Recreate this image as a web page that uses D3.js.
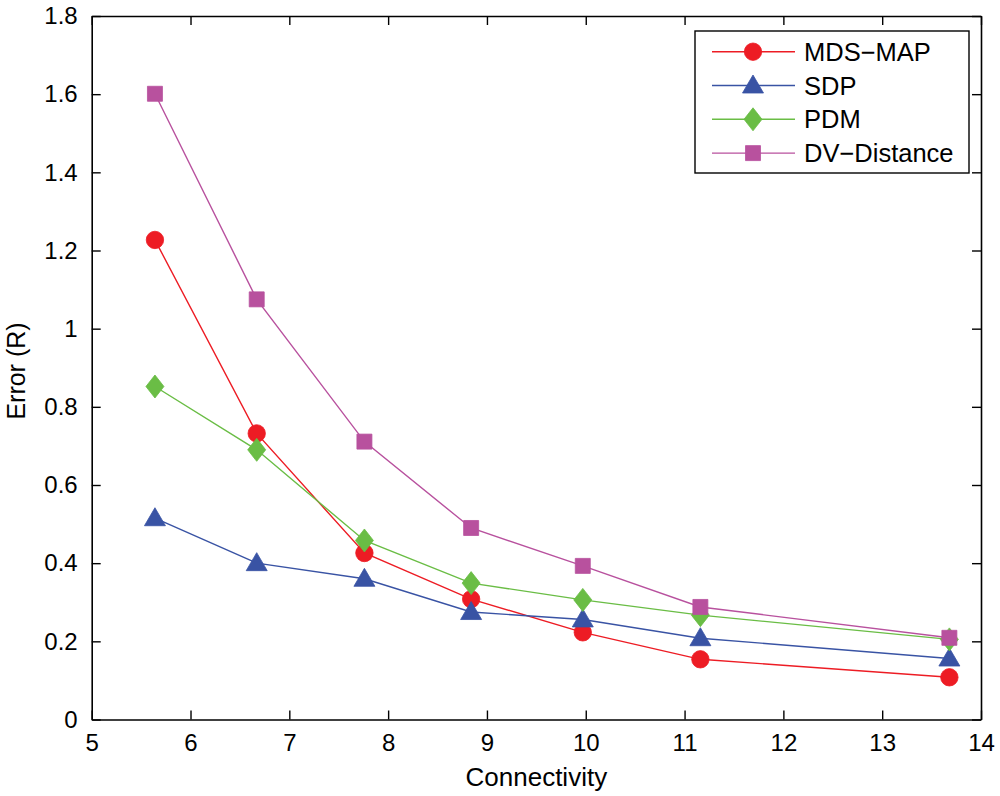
<!DOCTYPE html>
<html>
<head>
<meta charset="utf-8">
<script src="https://cdn.jsdelivr.net/npm/d3@7"></script>
<style>
  body { margin: 0; background: #fff; }
  svg text { font-family: "Liberation Sans", Arial, sans-serif; fill: #000; }
</style>
</head>
<body>
<svg id="chart" width="1000" height="796"></svg>
<script>
// connectivity values (x)
var connectivity = [5.64, 6.67, 7.76, 8.84, 9.97, 11.16, 13.68];

// error values per method
var mdsMap     = [1.227, 0.732, 0.426, 0.308, 0.223, 0.154, 0.108];
var sdp        = [0.515, 0.400, 0.360, 0.275, 0.256, 0.208, 0.156];
var pdm        = [0.852, 0.690, 0.458, 0.349, 0.306, 0.267, 0.205];
var dvDistance = [1.601, 1.075, 0.711, 0.490, 0.393, 0.288, 0.209];

var seriesNames = ["MDS\u2212MAP", "SDP", "PDM", "DV\u2212Distance"];
var xTicks = [5, 6, 7, 8, 9, 10, 11, 12, 13, 14];
var yTicks = [0, 0.2, 0.4, 0.6, 0.8, 1, 1.2, 1.4, 1.6, 1.8];

var svg = d3.select("#chart");
var margin = {top: 16, right: 19, bottom: 76.5, left: 91.7},
	width = +svg.attr("width") - margin.left - margin.right,
	height = +svg.attr("height") - margin.top - margin.bottom,
	g = svg.append("g").attr("transform", translate(margin.left, margin.top));

function translate(x, y)
{
	return "translate(" + x + "," + y + ")";
}

var x = d3.scaleLinear().domain([5, 14]).range([0, width]);
var y = d3.scaleLinear().domain([0, 1.8]).range([height, 0]);

var colors = ["#ed1c24", "#3953a4", "#6abd45", "#b8519e"];

// marker shapes, sized to the picture
function markerPath(i)
{
	if (i === 0) return d3.symbol().type(d3.symbolCircle).size(Math.PI * 8.7 * 8.7)();
	if (i === 1) return "M0,-10.5L10.5,7.5L-10.5,7.5Z";
	if (i === 2) return "M0,-11.5L9,0L0,11.5L-9,0Z";
	return "M-7.5,-7.5L7.5,-7.5L7.5,7.5L-7.5,7.5Z";
}

var allSeries = [mdsMap, sdp, pdm, dvDistance].map(function(vals, i){
	return {
		name: seriesNames[i],
		color: colors[i],
		index: i,
		points: vals.map(function(v, j){ return {x: connectivity[j], y: v}; })
	};
});

// axes box with inward ticks on every side
var tickLen = 9;
var axisStyle = function(sel){
	sel.selectAll(".domain").attr("stroke", "#000").attr("stroke-width", 1.6);
	sel.selectAll(".tick line").attr("stroke", "#000").attr("stroke-width", 1.4);
	sel.selectAll("text").attr("font-size", 24);
};

g.append("g")
	.attr("transform", translate(0, height))
	.call(d3.axisBottom(x).tickValues(xTicks).tickSizeInner(-tickLen).tickSizeOuter(0).tickPadding(14))
	.call(axisStyle);

g.append("g")
	.call(d3.axisTop(x).tickValues(xTicks).tickSizeInner(-tickLen).tickSizeOuter(0).tickFormat(""))
	.call(axisStyle);

g.append("g")
	.call(d3.axisLeft(y).tickValues(yTicks).tickSizeInner(-tickLen).tickSizeOuter(0).tickPadding(14)
		.tickFormat(function(d){ return d3.format("")(+d.toFixed(1)); }))
	.call(axisStyle);

g.append("g")
	.attr("transform", translate(width, 0))
	.call(d3.axisRight(y).tickValues(yTicks).tickSizeInner(-tickLen).tickSizeOuter(0).tickFormat(""))
	.call(axisStyle);

// series: line then markers, one series after the other
var line = d3.line()
	.x(function(d){ return x(d.x); })
	.y(function(d){ return y(d.y); });

var seriesG = g.selectAll(".series")
	.data(allSeries)
	.enter().append("g")
	.attr("class", "series");

seriesG.each(function(s){
	var sg = d3.select(this);
	sg.append("path")
		.attr("d", line(s.points))
		.attr("fill", "none")
		.attr("stroke", s.color)
		.attr("stroke-width", 1.4);
	sg.selectAll("path.marker")
		.data(s.points)
		.enter().append("path")
		.attr("class", "marker")
		.attr("transform", function(d){ return translate(x(d.x), y(d.y)); })
		.attr("d", markerPath(s.index))
		.attr("fill", s.color)
		.attr("stroke", s.color)
		.attr("stroke-width", 0.8);
});

// axis titles
svg.append("text")
	.attr("x", margin.left + width / 2)
	.attr("y", 786)
	.attr("text-anchor", "middle")
	.attr("font-size", 26)
	.text("Connectivity");

svg.append("text")
	.attr("transform", translate(24.5, 371) + " rotate(-90)")
	.attr("text-anchor", "middle")
	.attr("font-size", 25)
	.text("Error (R)");

// legend
var legendX = 695 - margin.left, legendY = 31 - margin.top;
var legend = g.append("g").attr("transform", translate(legendX, legendY));
legend.append("rect")
	.attr("width", 274)
	.attr("height", 142)
	.attr("fill", "#fff")
	.attr("stroke", "#000")
	.attr("stroke-width", 1.4);

var items = legend.selectAll(".item")
	.data(allSeries)
	.enter().append("g")
	.attr("class", "item")
	.attr("transform", function(d, i){ return translate(0, 20.7 + i * 33.8); });

items.append("line")
	.attr("x1", 17)
	.attr("x2", 100)
	.attr("stroke", function(d){ return d.color; })
	.attr("stroke-width", 1.4);

items.append("path")
	.attr("transform", translate(58, 0))
	.attr("d", function(d){ return markerPath(d.index); })
	.attr("fill", function(d){ return d.color; })
	.attr("stroke", function(d){ return d.color; })
	.attr("stroke-width", 0.8);

items.append("text")
	.attr("x", 109)
	.attr("dy", "0.36em")
	.attr("font-size", 25.5)
	.text(function(d){ return d.name; });
</script>
</body>
</html>
